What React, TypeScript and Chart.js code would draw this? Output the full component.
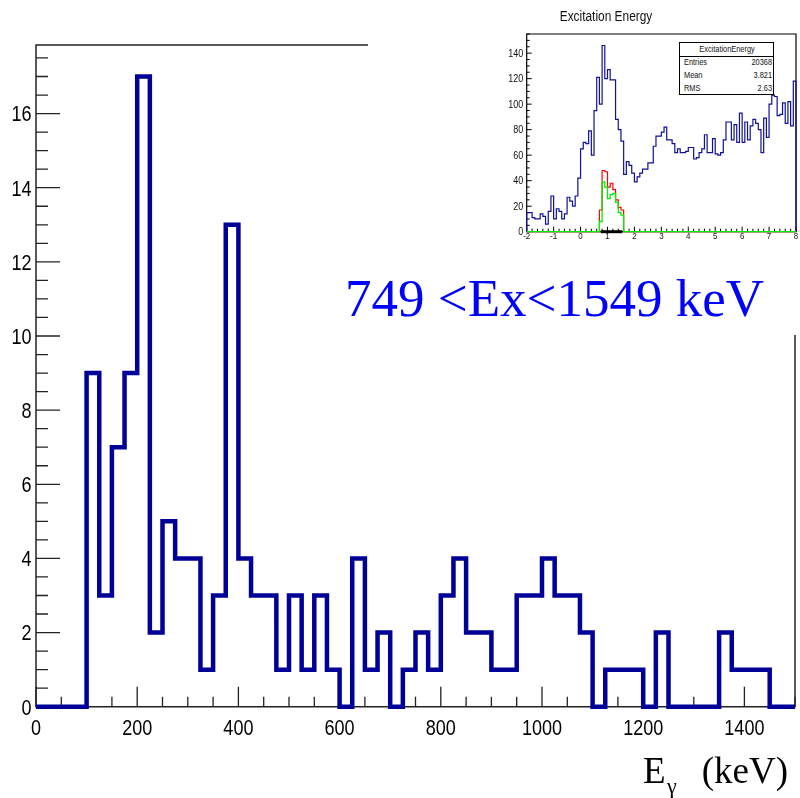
import React, { useEffect, useRef } from 'react';
import { Chart, registerables } from 'chart.js';

Chart.register(...registerables);

// ---------------- main histogram: gamma energy spectrum (25 keV bins) ----------------
const gammaBinWidth = 25; // keV
const gammaMin = 0;
const gammaMax = 1500;
const gammaCounts = [
  0, 0, 0, 0, 9, 3, 7, 9, 17, 2,
  5, 4, 4, 1, 3, 13, 4, 3, 3, 1,
  3, 1, 3, 1, 0, 4, 1, 2, 0, 1,
  2, 1, 3, 4, 2, 2, 1, 1, 3, 3,
  4, 3, 3, 2, 0, 1, 1, 1, 0, 2,
  0, 0, 0, 0, 2, 1, 1, 1, 0, 0,
];
const gammaTickValues = [0, 200, 400, 600, 800, 1000, 1200, 1400];
const countTickValues = [0, 2, 4, 6, 8, 10, 12, 14, 16];
const countMax = 17.85;

// gate on excitation energy
const gateLowKeV = 749;
const gateHighKeV = 1549;

// ---------------- inset: excitation energy (0.1 MeV bins from -2 to 8) ----------------
const excMin = -2;
const excMax = 8;
const excBinWidth = 0.1;
const excCounts = [
  15, 15, 11, 10, 10, 14, 12, 6, 16, 28,
  10, 18, 16, 10, 14, 27, 24, 20, 28, 42,
  65, 70, 69, 79, 60, 95, 121, 100, 146, 120,
  127, 119, 119, 88, 80, 71, 45, 55, 52, 46,
  39, 43, 46, 49, 49, 54, 54, 67, 75, 75,
  78, 82, 72, 72, 69, 62, 65, 62, 62, 63,
  66, 66, 57, 58, 62, 65, 76, 62, 62, 73,
  61, 60, 62, 72, 86, 86, 72, 84, 70, 93,
  70, 86, 72, 83, 88, 85, 80, 62, 89, 74,
  100, 107, 106, 91, 92, 101, 85, 102, 83, 118,
];
const excGatedStart = 0.7; // MeV, lower edge of the first gated bin
const excRedCounts = [17, 48, 47, 35, 38, 33, 25, 19, 17];
const excGreenCounts = [8, 39, 35, 26, 29, 30, 23, 15, 13];
const excXTickValues = [-2, -1, 0, 1, 2, 3, 4, 5, 6, 7, 8];
const excYTickValues = [0, 20, 40, 60, 80, 100, 120, 140];
const excYMax = 155;
const statsName = 'ExcitationEnergy';
const statsRows: [string, string][] = [
  ['Entries', '20368'],
  ['Mean', '3.821'],
  ['RMS', '2.63'],
];

// ---------------- helpers ----------------
const SANS = "'Liberation Sans', Arial, sans-serif";
const SERIF = "'Liberation Serif', 'Times New Roman', serif";

function histPoints(counts: number[], start: number, width: number, lo: number, hi: number) {
  const pts: { x: number; y: number }[] = [];
  pts.push({ x: lo, y: 0 });
  const fullN = Math.round((hi - lo) / width);
  const firstIdx = Math.round((start - lo) / width);
  const vals: number[] = [];
  for (let i = 0; i < fullN; i++) {
    const j = i - firstIdx;
    vals.push(j >= 0 && j < counts.length ? counts[j] : 0);
  }
  vals.forEach((v, i) => pts.push({ x: lo + i * width, y: v }));
  pts.push({ x: hi, y: vals[vals.length - 1] });
  pts.push({ x: hi, y: 0 });
  return pts;
}

// ROOT-style frame with inner ticks, and condensed tick labels taken from the scales
const frameTicks = {
  id: 'frameTicks',
  beforeDatasetsDraw(chart: any, _args: any, o: any) {
    const { ctx, chartArea: a, scales } = chart;
    const xs = scales.x;
    const ys = scales.y;
    ctx.save();
    ctx.strokeStyle = o.color;
    ctx.lineWidth = o.lineWidth;
    ctx.beginPath();
    ctx.rect(a.left, a.top, a.right - a.left, a.bottom - a.top);
    ctx.stroke();
    ctx.lineWidth = o.tickWidth;
    ctx.beginPath();
    const isMajor = (v: number, m: number) => Math.abs(v / m - Math.round(v / m)) < 1e-6;
    const nx = Math.floor((xs.max - xs.min) / o.xMinorStep + 1e-6);
    for (let k = 0; k <= nx; k++) {
      const v = xs.min + k * o.xMinorStep;
      const px = xs.getPixelForValue(v);
      const len = isMajor(v, o.xMajorStep) ? o.xMajorLen : o.xMinorLen;
      ctx.moveTo(px, a.bottom);
      ctx.lineTo(px, a.bottom - len);
    }
    const ny = Math.floor((ys.max - ys.min) / o.yMinorStep + 1e-6);
    for (let k = 0; k <= ny; k++) {
      const v = ys.min + k * o.yMinorStep;
      const py = ys.getPixelForValue(v);
      const len = isMajor(v, o.yMajorStep) ? o.yMajorLen : o.yMinorLen;
      ctx.moveTo(a.left, py);
      ctx.lineTo(a.left + len, py);
    }
    ctx.stroke();
    ctx.restore();
  },
  afterDraw(chart: any, _args: any, o: any) {
    const { ctx, chartArea: a, scales } = chart;
    const xs = scales.x;
    const ys = scales.y;
    ctx.save();
    ctx.fillStyle = o.labelColor;
    ctx.textBaseline = 'alphabetic';
    // x labels
    ctx.font = `${o.xFont}px ${SANS}`;
    ctx.textAlign = 'center';
    xs.ticks.forEach((t: any) => {
      const px = xs.getPixelForValue(t.value);
      ctx.save();
      ctx.translate(px, a.bottom + o.xLabelBaseline);
      ctx.scale(o.xSx, 1);
      ctx.fillText(String(t.value), 0, 0);
      ctx.restore();
    });
    // y labels
    ctx.font = `${o.yFont}px ${SANS}`;
    ctx.textAlign = 'right';
    ys.ticks.forEach((t: any) => {
      const py = ys.getPixelForValue(t.value);
      ctx.save();
      ctx.translate(a.left - o.yLabelGap, py + o.yFont * 0.358);
      ctx.scale(o.ySx, 1);
      ctx.fillText(String(t.value), 0, 0);
      ctx.restore();
    });
    ctx.restore();
  },
};

function mainConfig(): any {
  return {
    type: 'line',
    data: {
      datasets: [
        {
          data: histPoints(gammaCounts, gammaMin, gammaBinWidth, gammaMin, gammaMax),
          stepped: true,
          borderColor: '#000099',
          borderWidth: 4.5,
          borderJoinStyle: 'miter',
          pointRadius: 0,
          fill: false,
          clip: false,
        },
      ],
    },
    options: {
      animation: false,
      responsive: false,
      devicePixelRatio: 1,
      layout: { padding: { top: 45, right: 5, left: 0, bottom: 0 } },
      plugins: {
        legend: { display: false },
        tooltip: { enabled: false },
        frameTicks: {
          color: '#222', lineWidth: 1.5, tickWidth: 1.3,
          xMinorStep: 50, xMajorStep: 200, xMajorLen: 20, xMinorLen: 10,
          yMinorStep: 0.5, yMajorStep: 2, yMajorLen: 24, yMinorLen: 12,
          labelColor: '#000', xFont: 22, xSx: 0.82, xLabelBaseline: 28.5,
          yFont: 22, ySx: 0.82, yLabelGap: 4.5,
        },
      },
      scales: {
        x: {
          type: 'linear', min: gammaMin, max: gammaMax,
          grid: { display: false }, border: { display: false },
          afterBuildTicks: (s: any) => { s.ticks = gammaTickValues.map((v) => ({ value: v })); },
          afterFit: (s: any) => { s.height = 91.3; },
          ticks: { display: false },
        },
        y: {
          type: 'linear', min: 0, max: countMax,
          grid: { display: false }, border: { display: false },
          afterBuildTicks: (s: any) => { s.ticks = countTickValues.map((v) => ({ value: v })); },
          afterFit: (s: any) => { s.width = 36; },
          ticks: { display: false },
        },
      },
    },
    plugins: [frameTicks],
  };
}

function insetConfig(): any {
  return {
    type: 'line',
    data: {
      datasets: [
        {
          data: histPoints(excCounts, excMin, excBinWidth, excMin, excMax),
          stepped: true, borderColor: '#10109a', borderWidth: 1.2, pointRadius: 0, fill: false, clip: false, order: 3,
        },
        {
          data: histPoints(excRedCounts, excGatedStart, excBinWidth, excMin, excMax),
          stepped: true, borderColor: '#ff0000', borderWidth: 1.2, pointRadius: 0, fill: false, clip: false, order: 2,
        },
        {
          data: [{ x: gateLowKeV / 1000, y: 0 }, { x: gateHighKeV / 1000, y: 0 }],
          borderColor: '#000', borderWidth: 3, pointRadius: 0, fill: false, clip: false, order: 1,
        },
        {
          data: histPoints(excGreenCounts, excGatedStart, excBinWidth, excMin, excMax),
          stepped: true, borderColor: '#00ee00', borderWidth: 1.3, pointRadius: 0, fill: false, clip: false, order: 0,
        },
      ],
    },
    options: {
      animation: false,
      responsive: false,
      devicePixelRatio: 1,
      layout: { padding: { top: 34, right: 4, left: 0, bottom: 0 } },
      plugins: {
        legend: { display: false },
        tooltip: { enabled: false },
        frameTicks: {
          color: '#000', lineWidth: 1.2, tickWidth: 1,
          xMinorStep: 0.2, xMajorStep: 1, xMajorLen: 5, xMinorLen: 3,
          yMinorStep: 5, yMajorStep: 20, yMajorLen: 5, yMinorLen: 3,
          labelColor: '#111', xFont: 9, xSx: 0.88, xLabelBaseline: 7,
          yFont: 10, ySx: 0.9, yLabelGap: 3.5,
        },
      },
      scales: {
        x: {
          type: 'linear', min: excMin, max: excMax,
          grid: { display: false }, border: { display: false },
          afterBuildTicks: (s: any) => { s.ticks = excXTickValues.map((v) => ({ value: v })); },
          afterFit: (s: any) => { s.height = 18.3; },
          ticks: { display: false },
        },
        y: {
          type: 'linear', min: 0, max: excYMax,
          grid: { display: false }, border: { display: false },
          afterBuildTicks: (s: any) => { s.ticks = excYTickValues.map((v) => ({ value: v })); },
          afterFit: (s: any) => { s.width = 56.7; },
          ticks: { display: false },
        },
      },
    },
    plugins: [frameTicks],
  };
}

function Txt(props: { x: number; y: number; size: number; family: string; asc: number; sx?: number; color?: string; anchor?: 'start' | 'middle' | 'end'; children: React.ReactNode }) {
  const { x, y, size, family, asc, sx = 1, color = '#000', anchor = 'start', children } = props;
  const tx = anchor === 'middle' ? '-50%' : anchor === 'end' ? '-100%' : '0';
  const origin = anchor === 'middle' ? 'center' : anchor === 'end' ? 'right' : 'left';
  return (
    <div
      style={{
        position: 'absolute', left: x, top: y - size * asc, fontSize: size, lineHeight: `${size}px`,
        fontFamily: family, color, whiteSpace: 'nowrap',
        transform: `translateX(${tx}) scaleX(${sx})`, transformOrigin: `${origin} center`,
      }}
    >
      {children}
    </div>
  );
}

const SANS_ASC = 0.8465;
const SERIF_ASC = 0.8375;

export default function App() {
  const mainRef = useRef<HTMLCanvasElement>(null);
  const insetRef = useRef<HTMLCanvasElement>(null);

  useEffect(() => {
    const main = new Chart(mainRef.current as HTMLCanvasElement, mainConfig());
    const inset = new Chart(insetRef.current as HTMLCanvasElement, insetConfig());
    return () => {
      main.destroy();
      inset.destroy();
    };
  }, []);

  return (
    <div style={{ position: 'absolute', left: 0, top: 0, width: 800, height: 798, background: '#fff', overflow: 'hidden' }}>
      <canvas ref={mainRef} width={800} height={798} style={{ position: 'absolute', left: 0, top: 0 }} />
      <div style={{ position: 'absolute', left: 368, top: 0, width: 432, height: 335, background: '#fff' }} />
      <canvas ref={insetRef} width={330} height={250} style={{ position: 'absolute', left: 470, top: 0 }} />

      {/* inset title */}
      <Txt x={606} y={20.5} size={14} sx={0.85} family={SANS} asc={SANS_ASC} anchor="middle" color="#111">Excitation Energy</Txt>

      {/* stats box */}
      <div style={{ position: 'absolute', left: 679, top: 42, width: 95, height: 53, border: '1.5px solid #000', boxSizing: 'border-box', background: '#fff' }} />
      <div style={{ position: 'absolute', left: 679, top: 55.5, width: 95, height: 0, borderTop: '1px solid #000' }} />
      <Txt x={726.5} y={53} size={9} sx={0.82} family={SANS} asc={SANS_ASC} anchor="middle" color="#111">{statsName}</Txt>
      {statsRows.map(([k, v], i) => (
        <React.Fragment key={k}>
          <Txt x={683.5} y={65.5 + i * 13.2} size={9} sx={0.82} family={SANS} asc={SANS_ASC} color="#111">{k}</Txt>
          <Txt x={771.5} y={65.5 + i * 13.2} size={9} sx={0.82} family={SANS} asc={SANS_ASC} anchor="end" color="#111">{v}</Txt>
        </React.Fragment>
      ))}

      {/* gate annotation */}
      <Txt x={345} y={316} size={53} family={SERIF} asc={SERIF_ASC} color="#0000ff">
        {`${gateLowKeV} <Ex<${gateHighKeV} keV`}
      </Txt>

      {/* x axis title */}
      <Txt x={643} y={783} size={37} family={SERIF} asc={SERIF_ASC}>E</Txt>
      <Txt x={667} y={793} size={22} family={SERIF} asc={SERIF_ASC}>γ</Txt>
      <Txt x={788} y={783} size={37} family={SERIF} asc={SERIF_ASC} anchor="end">(keV)</Txt>
    </div>
  );
}
